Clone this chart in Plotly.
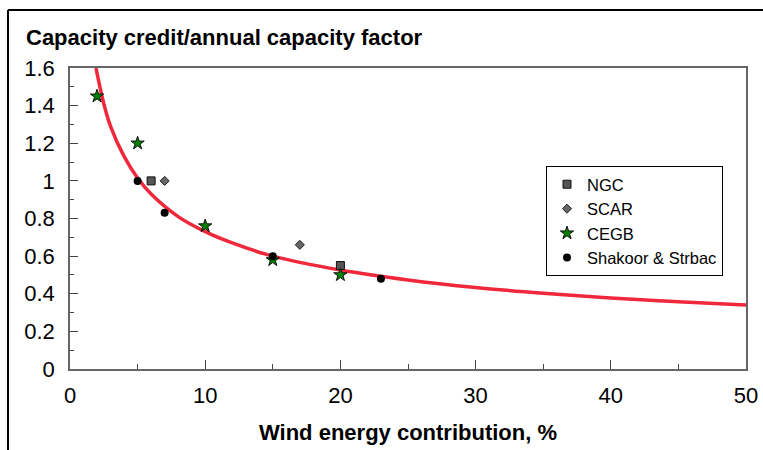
import plotly.graph_objects as go

# Fitted curve
curve_x = [1.92, 2.5, 3, 4, 5, 6, 8, 10, 12, 15, 20, 25, 30, 35, 40, 45, 50]
curve_y = [1.60, 1.41, 1.29, 1.13, 1.015, 0.93, 0.81, 0.73, 0.67, 0.60, 0.526, 0.473, 0.433, 0.403, 0.378, 0.357, 0.340]

ngc_x = [6, 20]
ngc_y = [1.0, 0.55]
scar_x = [7, 17]
scar_y = [1.0, 0.66]
cegb_x = [2, 5, 10, 15, 20]
cegb_y = [1.45, 1.2, 0.76, 0.58, 0.5]
shak_x = [5, 7, 15, 23]
shak_y = [1.0, 0.83, 0.6, 0.48]

FONT = "Liberation Sans, Arial, sans-serif"

fig = go.Figure()
fig.add_trace(go.Scatter(x=curve_x, y=curve_y, mode="lines", line=dict(color="#f0283c", width=3.5, shape="spline"),
                         showlegend=False, hoverinfo="skip"))
fig.add_trace(go.Scatter(x=ngc_x, y=ngc_y, mode="markers", name="NGC", legendgroup="a",
                         marker=dict(symbol="square", size=8, color="#555555", line=dict(color="#111111", width=1))))
fig.add_trace(go.Scatter(x=scar_x, y=scar_y, mode="markers", name="SCAR", legendgroup="b",
                         marker=dict(symbol="diamond", size=7, color="#666666", line=dict(color="#222222", width=1))))
fig.add_trace(go.Scatter(x=cegb_x, y=cegb_y, mode="markers", name="CEGB", legendgroup="c",
                         marker=dict(symbol="star", size=10, color="#008000", line=dict(color="#111111", width=1))))
fig.add_trace(go.Scatter(x=shak_x, y=shak_y, mode="markers", name="Shakoor & Strbac", legendgroup="d",
                         marker=dict(symbol="circle", size=8, color="#000000")))

L, R, T, B = 70, 746, 68, 369
W, H = 763, 450
pw, ph = R - L, B - T

def px(x):
    return (x - L) / pw

def py(y):
    return (B - y) / ph

fig.update_layout(
    width=W, height=H,
    margin=dict(l=L, r=W - R, t=T, b=H - B, pad=0, autoexpand=False),
    paper_bgcolor="white", plot_bgcolor="white",
    font=dict(family=FONT, color="black", size=22),
    showlegend=True,
    legend=dict(x=px(546), y=py(166), xanchor="left", yanchor="top",
                bordercolor="black", borderwidth=1, bgcolor="white",
                font=dict(size=16.5, family=FONT), tracegroupgap=0),
    xaxis=dict(range=[0, 50], tickvals=[0, 10, 20, 30, 40, 50], ticks="inside", ticklen=9,
               tickcolor="#444", tickwidth=1, showgrid=False, zeroline=False, automargin=False,
               showline=True, linecolor="#666", linewidth=1.5, mirror=True,
               tickfont=dict(size=22), ticklabelstandoff=6,
               minor=dict(tickvals=[5, 15, 25, 35, 45], ticks="inside", ticklen=5, tickcolor="#444"),
               title=dict(text="<b>Wind energy contribution, %</b>", font=dict(size=22), standoff=17)),
    yaxis=dict(range=[0, 1.6], tickvals=[0, 0.2, 0.4, 0.6, 0.8, 1, 1.2, 1.4, 1.6],
               ticktext=["0", "0.2", "0.4", "0.6", "0.8", "1", "1.2", "1.4", "1.6"],
               ticks="inside", ticklen=8, tickcolor="#444", tickwidth=1, showgrid=False, zeroline=False,
               automargin=False,
               showline=True, linecolor="#666", linewidth=1.5, mirror=True,
               tickfont=dict(size=22), ticklabelstandoff=9,
               minor=dict(tickvals=[0.1, 0.3, 0.5, 0.7, 0.9, 1.1, 1.3, 1.5], ticks="inside", ticklen=4, tickcolor="#444")),
    annotations=[dict(text="<b>Capacity credit/annual capacity factor</b>", xref="paper", yref="paper",
                      x=px(24), y=py(37), xanchor="left", yanchor="middle", showarrow=False,
                      font=dict(size=22, family=FONT))],
    shapes=[
        dict(type="line", xref="paper", yref="paper", x0=px(8), x1=px(8), y0=py(452), y1=py(10),
             line=dict(color="black", width=2)),
        dict(type="line", xref="paper", yref="paper", x0=px(8), x1=px(765), y0=py(10), y1=py(10),
             line=dict(color="black", width=2)),
    ],
)

fig.write_html("out.html")
